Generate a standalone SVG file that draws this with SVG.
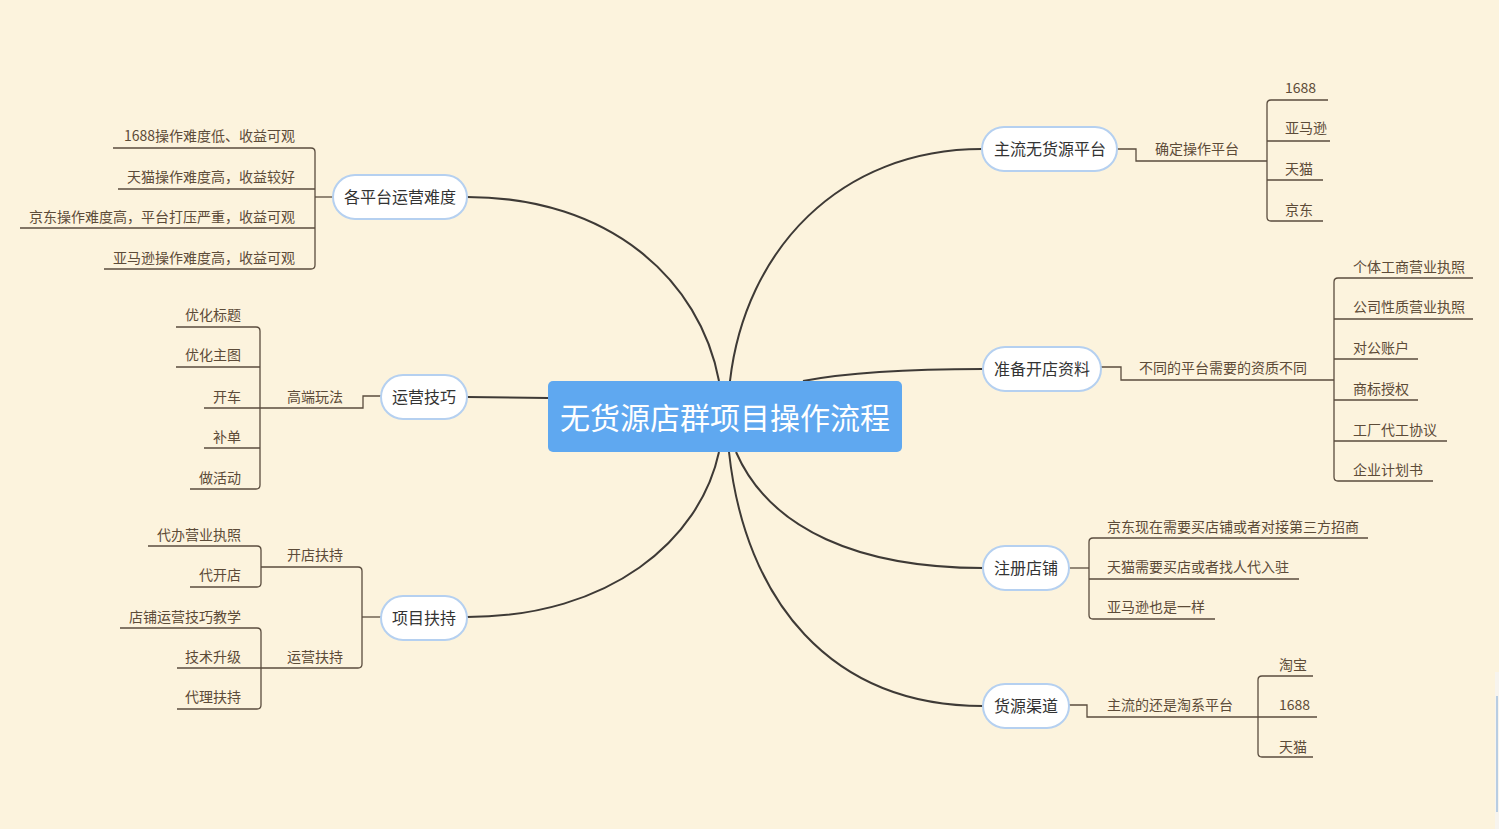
<svg xmlns="http://www.w3.org/2000/svg" width="1499" height="829" viewBox="0 0 1499 829">
<defs>
<style>
.main{fill:none;stroke:#3e3a36;stroke-width:2}
.br{fill:none;stroke:#5a4c3e;stroke-width:1.3}
.topic{fill:#ffffff;stroke:#b5d0f0;stroke-width:2}
.tt{font-family:"Noto Sans CJK SC","Noto Sans",sans-serif;font-size:16px;fill:#333333;text-anchor:middle}
.st{font-family:"Noto Sans CJK SC","Noto Sans",sans-serif;font-size:14px;fill:#5c4b38}
.e{text-anchor:end}
.m{text-anchor:middle}
.ct{font-family:"Noto Sans CJK SC","Noto Sans",sans-serif;font-size:30px;fill:#ffffff;text-anchor:middle}
</style>
</defs>
<rect width="1499" height="829" fill="#fcf3dd"/>
<g id="artifact">
<rect x="1495" y="672" width="4" height="157" fill="#f7f4ee"/>
<line x1="1497" y1="696" x2="1497" y2="812" stroke="#7aa6d6" stroke-width="1"/>
</g>
<g id="connectors">
<path class="main" d="M467,197 C610,197 700,280 719,381"/>
<path class="main" d="M982,149 C840,149 745,250 730,381"/>
<path class="main" d="M467,397 L548,398"/>
<path class="main" d="M803,381 C850,372 920,369 983,369"/>
<path class="main" d="M467,617 C610,617 700,540 719,452"/>
<path class="main" d="M736,452 C770,530 860,568 983,568"/>
<path class="main" d="M729,452 C745,600 830,706 983,706"/>
<!-- left: 各平台运营难度 -->
<path class="br" d="M333,197 L315,197"/>
<path class="br" d="M311,148 Q315,148 315,152 L315,265 Q315,269 311,269"/>
<path class="br" d="M113,148 L311,148 M118,189 L315,189 M20,228 L315,228 M104,269 L311,269"/>
<!-- left: 运营技巧 -->
<path class="br" d="M381,396 L363,396 L363,408 L204,408"/>
<path class="br" d="M256,327 Q260,327 260,331 L260,485 Q260,489 256,489"/>
<path class="br" d="M176,327 L256,327 M176,367 L260,367 M204,448 L260,448 M190,489 L256,489"/>
<!-- left: 项目扶持 -->
<path class="br" d="M381,617 L362,617"/>
<path class="br" d="M358,567 Q362,567 362,571 L362,664 Q362,668 358,668"/>
<path class="br" d="M261,567 L358,567 M261,668 L358,668"/>
<path class="br" d="M257,546 Q261,546 261,550 L261,583 Q261,587 257,587"/>
<path class="br" d="M148,546 L257,546 M190,587 L257,587"/>
<path class="br" d="M257,628 Q261,628 261,632 L261,705 Q261,709 257,709"/>
<path class="br" d="M120,628 L257,628 M177,668 L261,668 M177,709 L257,709"/>
<!-- right: 主流无货源平台 -->
<path class="br" d="M1117,149 L1136,149 L1136,161 L1267,161"/>
<path class="br" d="M1271,100 Q1267,100 1267,104 L1267,217 Q1267,221 1271,221"/>
<path class="br" d="M1271,100 L1328,100 M1267,141 L1330,141 M1267,180 L1323,180 M1271,221 L1323,221"/>
<!-- right: 准备开店资料 -->
<path class="br" d="M1101,367 L1121,367 L1121,380 L1334,380"/>
<path class="br" d="M1338,278 Q1334,278 1334,282 L1334,477 Q1334,481 1338,481"/>
<path class="br" d="M1338,278 L1473,278 M1334,319 L1473,319 M1334,359 L1418,359 M1334,400 L1418,400 M1334,441 L1447,441 M1338,481 L1433,481"/>
<!-- right: 注册店铺 -->
<path class="br" d="M1069,568 L1089,568"/>
<path class="br" d="M1093,538 Q1089,538 1089,542 L1089,615 Q1089,619 1093,619"/>
<path class="br" d="M1093,538 L1368,538 M1089,579 L1299,579 M1093,619 L1215,619"/>
<!-- right: 货源渠道 -->
<path class="br" d="M1069,705 L1087,705 L1087,717 L1317,717"/>
<path class="br" d="M1262,676 Q1258,676 1258,680 L1258,753 Q1258,757 1262,757"/>
<path class="br" d="M1262,676 L1313,676 M1262,757 L1313,757"/>
</g>
<g id="center">
<rect x="548" y="381" width="354" height="71" rx="5" fill="#5fa8f0"/>
<text class="ct" x="725" y="429">无货源店群项目操作流程</text>
</g>
<g id="n-difficulty">
<rect class="topic" x="333" y="175" width="134" height="44" rx="22"/>
<text class="tt" x="400" y="203">各平台运营难度</text>
<text class="st e" x="295" y="141">1688操作难度低、收益可观</text>
<text class="st e" x="295" y="182">天猫操作难度高，收益较好</text>
<text class="st e" x="295" y="222">京东操作难度高，平台打压严重，收益可观</text>
<text class="st e" x="295" y="263">亚马逊操作难度高，收益可观</text>
</g>
<g id="n-skills">
<rect class="topic" x="381" y="375" width="86" height="44" rx="22"/>
<text class="tt" x="424" y="403">运营技巧</text>
<text class="st m" x="315" y="402">高端玩法</text>
<text class="st e" x="241" y="320">优化标题</text>
<text class="st e" x="241" y="360">优化主图</text>
<text class="st e" x="241" y="402">开车</text>
<text class="st e" x="241" y="442">补单</text>
<text class="st e" x="241" y="483">做活动</text>
</g>
<g id="n-support">
<rect class="topic" x="381" y="596" width="86" height="44" rx="22"/>
<text class="tt" x="424" y="624">项目扶持</text>
<text class="st m" x="315" y="560">开店扶持</text>
<text class="st m" x="315" y="662">运营扶持</text>
<text class="st e" x="241" y="540">代办营业执照</text>
<text class="st e" x="241" y="580">代开店</text>
<text class="st e" x="241" y="622">店铺运营技巧教学</text>
<text class="st e" x="241" y="662">技术升级</text>
<text class="st e" x="241" y="702">代理扶持</text>
</g>
<g id="n-platforms">
<rect class="topic" x="982" y="127" width="135" height="44" rx="22"/>
<text class="tt" x="1050" y="155">主流无货源平台</text>
<text class="st m" x="1197" y="154">确定操作平台</text>
<text class="st" x="1285" y="93">1688</text>
<text class="st" x="1285" y="133">亚马逊</text>
<text class="st" x="1285" y="174">天猫</text>
<text class="st" x="1285" y="215">京东</text>
</g>
<g id="n-materials">
<rect class="topic" x="983" y="347" width="118" height="44" rx="22"/>
<text class="tt" x="1042" y="375">准备开店资料</text>
<text class="st m" x="1223" y="373">不同的平台需要的资质不同</text>
<text class="st" x="1353" y="272">个体工商营业执照</text>
<text class="st" x="1353" y="312">公司性质营业执照</text>
<text class="st" x="1353" y="353">对公账户</text>
<text class="st" x="1353" y="394">商标授权</text>
<text class="st" x="1353" y="435">工厂代工协议</text>
<text class="st" x="1353" y="475">企业计划书</text>
</g>
<g id="n-register">
<rect class="topic" x="983" y="546" width="86" height="44" rx="22"/>
<text class="tt" x="1026" y="574">注册店铺</text>
<text class="st" x="1107" y="532">京东现在需要买店铺或者对接第三方招商</text>
<text class="st" x="1107" y="572">天猫需要买店或者找人代入驻</text>
<text class="st" x="1107" y="612">亚马逊也是一样</text>
</g>
<g id="n-sources">
<rect class="topic" x="983" y="684" width="86" height="44" rx="22"/>
<text class="tt" x="1026" y="712">货源渠道</text>
<text class="st m" x="1170" y="710">主流的还是淘系平台</text>
<text class="st" x="1279" y="670">淘宝</text>
<text class="st" x="1279" y="710">1688</text>
<text class="st" x="1279" y="752">天猫</text>
</g>
</svg>
